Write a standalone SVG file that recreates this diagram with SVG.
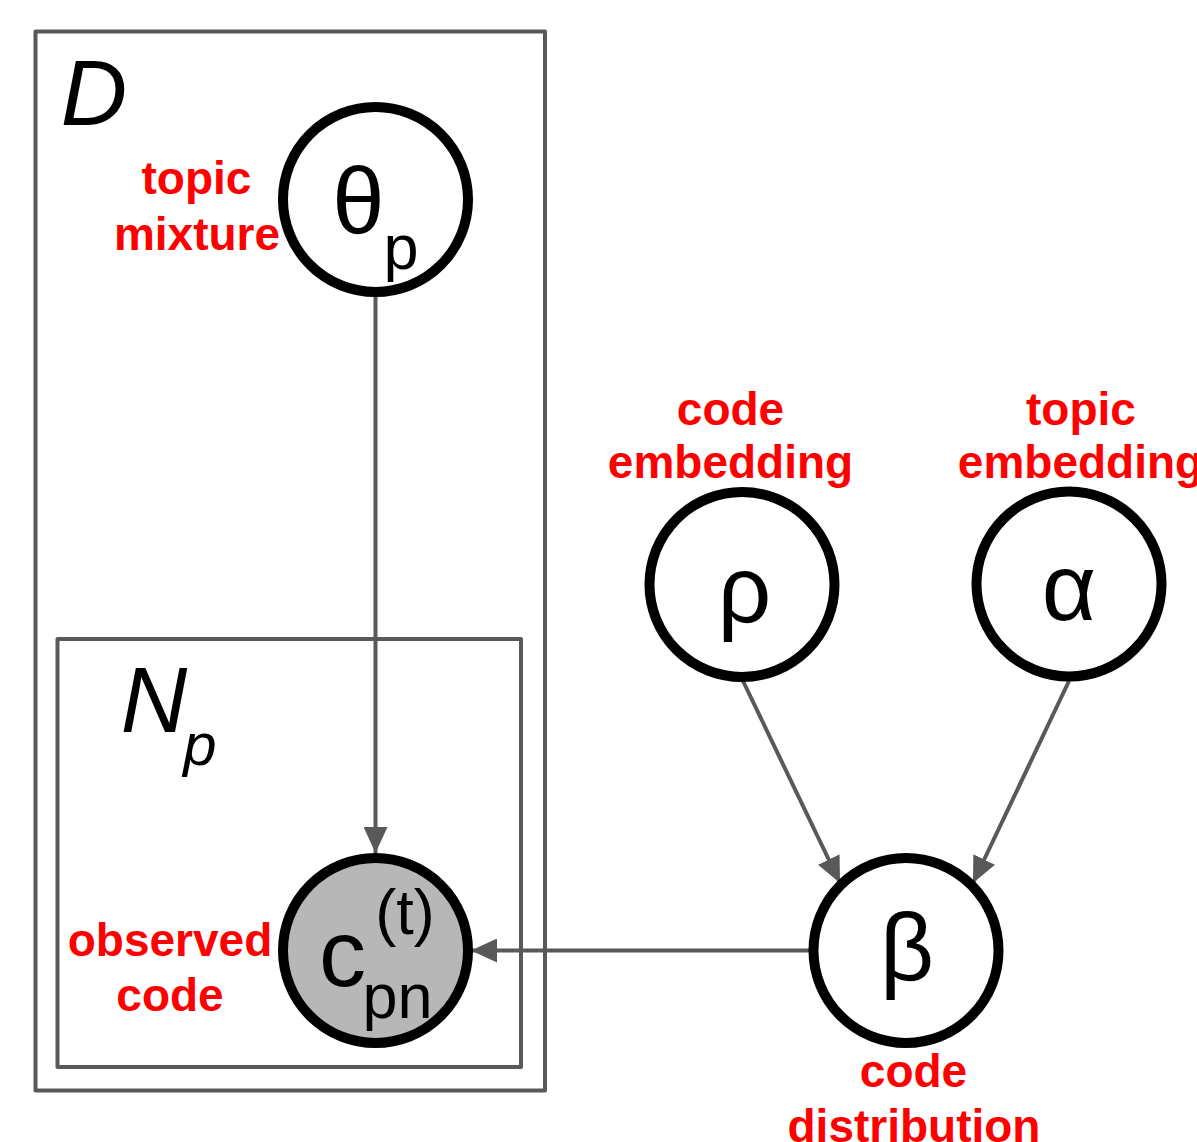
<svg xmlns="http://www.w3.org/2000/svg" width="1197" height="1142" viewBox="0 0 1197 1142">
<style>
.plate{fill:none;stroke:#595959;stroke-width:4;stroke-linejoin:round}
.node{fill:#ffffff;stroke:#000000;stroke-width:10}
.obs{fill:#b7b7b7}
.sym{font-family:"Liberation Sans",Arial,sans-serif;fill:#000000;text-anchor:middle}
.big{font-size:94px}
.sub{font-size:63px}
.it{font-style:italic}
.lbl{font-family:"Liberation Sans",Arial,sans-serif;font-weight:bold;font-size:46px;fill:#ff0000;text-anchor:middle}
.edge{fill:none;stroke:#595959;stroke-width:4}
</style>
<defs>
<marker id="arr" markerUnits="userSpaceOnUse" markerWidth="26" markerHeight="24" refX="26" refY="12" orient="auto">
<path d="M0,0 L26,12 L0,24 z" fill="#595959"/>
</marker>
</defs>
<rect class="plate" x="35.5" y="31.5" width="509.5" height="1059"/>
<text class="sym it" x="94" y="125" style="font-size:92px">D</text>
<rect class="plate" x="57.5" y="639" width="463.5" height="428"/>
<text class="sym it" x="154" y="732" style="font-size:92px">N</text>
<text class="sym it" x="200" y="765" style="font-size:60px">p</text>
<g id="connectors">
<line class="edge" x1="375.5" y1="297" x2="375.5" y2="853" marker-end="url(#arr)"/>
<line class="edge" x1="810" y1="950.5" x2="471" y2="950.5" marker-end="url(#arr)"/>
<line class="edge" x1="743" y1="681" x2="840" y2="883" marker-end="url(#arr)"/>
<line class="edge" x1="1069" y1="681" x2="973" y2="883" marker-end="url(#arr)"/>
</g>
<g id="theta">
<circle class="node" cx="375.5" cy="199.5" r="92.5"/>
<text class="sym big" x="358.5" y="234">θ</text>
<text class="sym sub" x="401" y="269">p</text>
<text class="lbl" x="196.5" y="194">topic</text>
<text class="lbl" x="197" y="250">mixture</text>
</g>
<g id="c">
<circle class="node obs" cx="375.5" cy="950.5" r="92.5"/>
<text class="sym big" x="342.5" y="986">c</text>
<text class="sym sub" x="405" y="934">(t)</text>
<text class="sym sub" x="397.5" y="1018">pn</text>
<text class="lbl" x="170" y="956">observed</text>
<text class="lbl" x="170" y="1011">code</text>
</g>
<g id="rho">
<circle class="node" cx="742" cy="584.5" r="92.5"/>
<text class="sym big" x="744.5" y="622">ρ</text>
<text class="lbl" x="730.5" y="425">code</text>
<text class="lbl" x="730.5" y="478">embedding</text>
</g>
<g id="alpha">
<circle class="node" cx="1069" cy="584" r="92.5"/>
<text class="sym big" x="1069" y="620">α</text>
<text class="lbl" x="1081" y="425">topic</text>
<text class="lbl" x="1080.5" y="478">embedding</text>
</g>
<g id="beta">
<circle class="node" cx="906" cy="950.5" r="92.5"/>
<text class="sym big" x="907" y="980">β</text>
<text class="lbl" x="913.5" y="1087">code</text>
<text class="lbl" x="914" y="1142">distribution</text>
</g>
</svg>
